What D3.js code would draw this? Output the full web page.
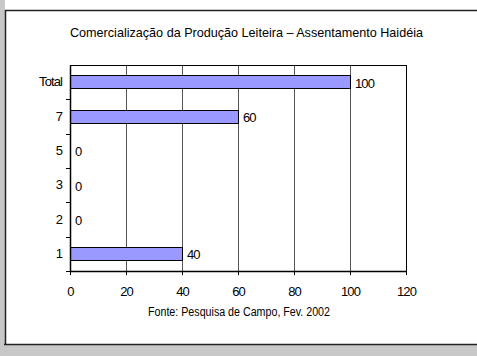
<!DOCTYPE html>
<html>
<head>
<meta charset="utf-8">
<script src="https://cdn.jsdelivr.net/npm/d3@7/dist/d3.min.js"></script>
<style>
  html, body { margin: 0; padding: 0; background: #ffffff; }
  svg { display: block; }
  text { font-family: Arial, "Liberation Sans", sans-serif; fill: #000; }
</style>
</head>
<body>
<svg id="chart" width="477" height="356"></svg>
<script>
const categories = ["Total", "7", "5", "3", "2", "1"];
const values = [100, 60, 0, 0, 0, 40];
const xTickValues = [0, 20, 40, 60, 80, 100, 120];
const titleText = "Comercialização da Produção Leiteira – Assentamento Haidéia";
const sourceText = "Fonte: Pesquisa de Campo, Fev. 2002";

const W = 477, H = 356;
const plot = { left: 70, right: 406, top: 65, bottom: 271 };
const FONT = "Arial, 'Liberation Sans', sans-serif";

const svg = d3.select("#chart");

// window frame
svg.append("rect").attr("x", 0).attr("y", 0).attr("width", W).attr("height", H).attr("fill", "#ffffff");
svg.append("rect").attr("x", 0).attr("y", 0).attr("width", 5).attr("height", H).attr("fill", "#c8c8c8");
svg.append("rect").attr("x", 4).attr("y", 345).attr("width", W - 4).attr("height", H - 345).attr("fill", "#c8c8c8");
svg.append("line").attr("x1", 5).attr("x2", W).attr("y1", 10.5).attr("y2", 10.5).attr("stroke", "#222").attr("stroke-width", 1.5);
svg.append("line").attr("x1", 5.5).attr("x2", 5.5).attr("y1", 10).attr("y2", 345).attr("stroke", "#222").attr("stroke-width", 1.5);
svg.append("line").attr("x1", 4).attr("x2", W).attr("y1", 344.5).attr("y2", 344.5).attr("stroke", "#222").attr("stroke-width", 1.5);

const x = d3.scaleLinear().domain([0, 120]).range([plot.left, plot.right]);
const y = d3.scaleBand().domain(categories).range([plot.top, plot.bottom])
  .paddingInner(0.61).paddingOuter(0.305);

// gridlines
svg.append("g").selectAll("line").data(xTickValues.filter(v => v > 0 && v < 120)).join("line")
  .attr("x1", d => Math.round(x(d)) + 0.5).attr("x2", d => Math.round(x(d)) + 0.5)
  .attr("y1", plot.top).attr("y2", plot.bottom)
  .attr("stroke", "#555").attr("stroke-width", 1);

// plot border top & right
svg.append("line").attr("x1", plot.left).attr("x2", plot.right + 0.5)
  .attr("y1", plot.top + 0.5).attr("y2", plot.top + 0.5).attr("stroke", "#000").attr("stroke-width", 1);
svg.append("line").attr("x1", plot.right + 0.5).attr("x2", plot.right + 0.5)
  .attr("y1", plot.top).attr("y2", plot.bottom).attr("stroke", "#000").attr("stroke-width", 1);

// bars
const data = categories.map((c, i) => ({ c, v: values[i] }));
svg.append("g").selectAll("rect").data(data.filter(d => d.v > 0)).join("rect")
  .attr("x", x(0) + 0.5)
  .attr("y", d => Math.round(y(d.c)) + 0.5)
  .attr("width", d => x(d.v) - x(0))
  .attr("height", Math.round(y.bandwidth()))
  .attr("fill", "#9999ff").attr("stroke", "#000").attr("stroke-width", 1);

// value labels
svg.append("g").selectAll("text").data(data).join("text")
  .attr("x", d => x(d.v) + 5)
  .attr("y", d => y(d.c) + y.bandwidth() / 2 + 1)
  .attr("dy", "0.35em")
  .attr("font-size", 13).attr("letter-spacing", -0.9)
  .text(d => d.v);

// x axis
const xAxis = d3.axisBottom(x).tickValues(xTickValues).tickSize(4).tickSizeOuter(0).tickPadding(12);
const gx = svg.append("g").attr("transform", `translate(0,${plot.bottom})`).call(xAxis);
gx.select(".domain").attr("stroke", "#000").attr("stroke-width", 1.5);
gx.selectAll(".tick line").attr("stroke", "#000");
gx.selectAll(".tick text").attr("font-size", 13).attr("letter-spacing", -0.9)
  .attr("font-family", FONT).attr("fill", "#000");

// y axis
const yAxis = d3.axisLeft(y).tickSize(0).tickSizeOuter(0).tickPadding(8);
const gy = svg.append("g").attr("transform", `translate(${plot.left},0)`).call(yAxis);
gy.select(".domain").attr("stroke", "#000").attr("stroke-width", 1.5);
gy.selectAll(".tick text").attr("font-size", 13).attr("letter-spacing", -0.9)
  .attr("font-family", FONT).attr("fill", "#000");
// y tick marks at band boundaries
const bounds = d3.range(categories.length + 1).map(i => plot.top + i * y.step());
svg.append("g").selectAll("line").data(bounds.slice(1)).join("line")
  .attr("x1", plot.left - 4).attr("x2", plot.left)
  .attr("y1", d => Math.round(d) + 0.5).attr("y2", d => Math.round(d) + 0.5)
  .attr("stroke", "#000");

// title
svg.append("text").attr("x", 70).attr("y", 32).attr("dy", "0.35em")
  .attr("font-size", 13).attr("textLength", 353).attr("lengthAdjust", "spacingAndGlyphs")
  .text(titleText);

// source
svg.append("text").attr("x", 148).attr("y", 312).attr("dy", "0.35em")
  .attr("font-size", 12).attr("textLength", 182).attr("lengthAdjust", "spacingAndGlyphs")
  .text(sourceText);
</script>
</body>
</html>
